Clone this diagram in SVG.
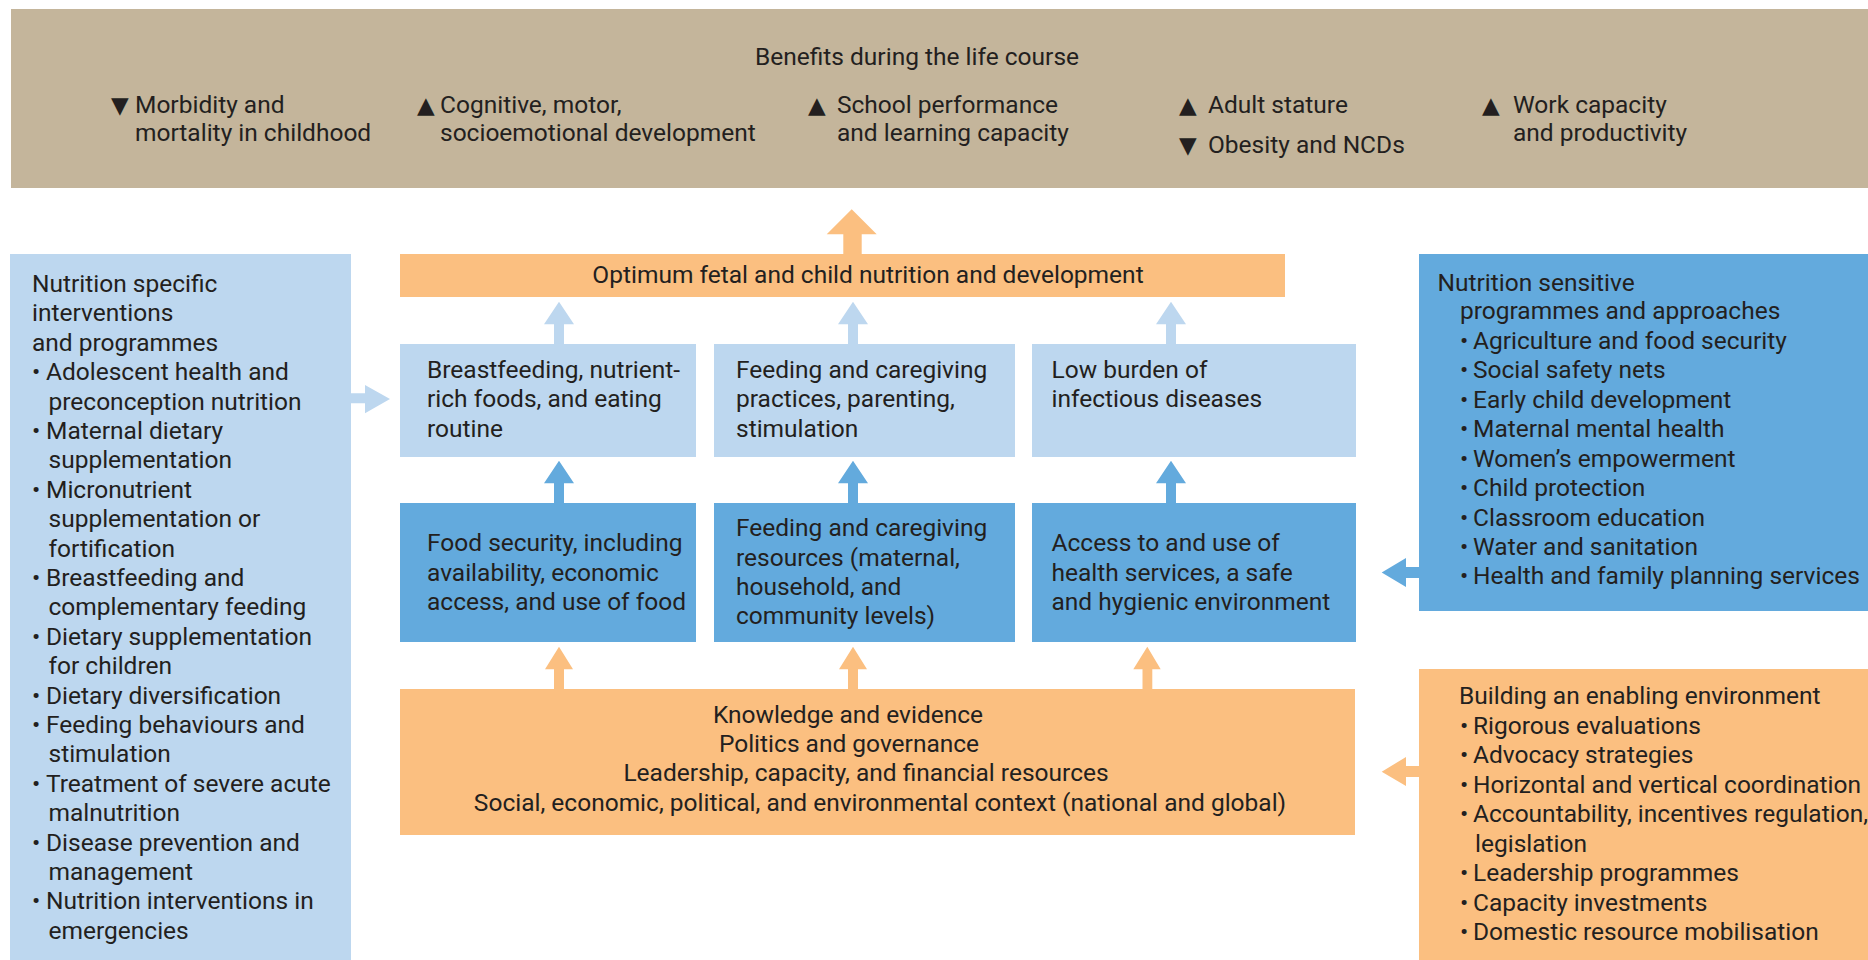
<svg xmlns="http://www.w3.org/2000/svg" width="1868" height="960" viewBox="0 0 1868 960">
  <style>
    .t { font-family: Roboto, "Liberation Sans", sans-serif; font-size: 24.5px; fill: #231f20; }
    .sym { font-family: "DejaVu Sans", Roboto, sans-serif; font-size: 23px; fill: #231f20; }
    .mid { text-anchor: middle; }
    .tan { fill: #c4b59b; }
    .lblue { fill: #bdd7ef; }
    .blue { fill: #63aadd; }
    .orange { fill: #fbbf80; }
  </style>

  <!-- Benefits band -->
  <g id="benefits">
    <rect class="tan" x="11" y="9" width="1857" height="179"/>
    <text class="t mid" x="917" y="65">Benefits during the life course</text>
    <text class="sym" x="111" y="113">▼</text>
    <text class="t" x="135" y="113">Morbidity and</text>
    <text class="t" x="135" y="141">mortality in childhood</text>
    <text class="sym" x="417" y="113">▲</text>
    <text class="t" x="440" y="113">Cognitive, motor,</text>
    <text class="t" x="440" y="141">socioemotional development</text>
    <text class="sym" x="808" y="113">▲</text>
    <text class="t" x="837" y="113">School performance</text>
    <text class="t" x="837" y="141">and learning capacity</text>
    <text class="sym" x="1179" y="113">▲</text>
    <text class="t" x="1208" y="113">Adult stature</text>
    <text class="sym" x="1179" y="153">▼</text>
    <text class="t" x="1208" y="153">Obesity and NCDs</text>
    <text class="sym" x="1482" y="113">▲</text>
    <text class="t" x="1513" y="113">Work capacity</text>
    <text class="t" x="1513" y="141">and productivity</text>
  </g>

  <!-- Nutrition specific interventions -->
  <g id="specific">
    <rect class="lblue" x="10" y="254" width="341" height="706"/>
    <text class="t" x="32" y="292">Nutrition specific</text>
    <text class="t" x="32" y="321.4">interventions</text>
    <text class="t" x="32" y="350.8">and programmes</text>
    <text class="t" y="380.2"><tspan x="32">•</tspan><tspan x="46">Adolescent health and</tspan></text>
    <text class="t" x="48.5" y="409.6">preconception nutrition</text>
    <text class="t" y="439"><tspan x="32">•</tspan><tspan x="46">Maternal dietary</tspan></text>
    <text class="t" x="48.5" y="468.4">supplementation</text>
    <text class="t" y="497.8"><tspan x="32">•</tspan><tspan x="46">Micronutrient</tspan></text>
    <text class="t" x="48.5" y="527.2">supplementation or</text>
    <text class="t" x="48.5" y="556.6">fortification</text>
    <text class="t" y="586"><tspan x="32">•</tspan><tspan x="46">Breastfeeding and</tspan></text>
    <text class="t" x="48.5" y="615.4">complementary feeding</text>
    <text class="t" y="644.8"><tspan x="32">•</tspan><tspan x="46">Dietary supplementation</tspan></text>
    <text class="t" x="48.5" y="674.2">for children</text>
    <text class="t" y="703.6"><tspan x="32">•</tspan><tspan x="46">Dietary diversification</tspan></text>
    <text class="t" y="733"><tspan x="32">•</tspan><tspan x="46">Feeding behaviours and</tspan></text>
    <text class="t" x="48.5" y="762.4">stimulation</text>
    <text class="t" y="791.8"><tspan x="32">•</tspan><tspan x="46">Treatment of severe acute</tspan></text>
    <text class="t" x="48.5" y="821.2">malnutrition</text>
    <text class="t" y="850.6"><tspan x="32">•</tspan><tspan x="46">Disease prevention and</tspan></text>
    <text class="t" x="48.5" y="880">management</text>
    <text class="t" y="909.4"><tspan x="32">•</tspan><tspan x="46">Nutrition interventions in</tspan></text>
    <text class="t" x="48.5" y="938.8">emergencies</text>
  </g>

  <!-- Outcome -->
  <g id="optimum">
    <rect class="orange" x="400" y="254" width="885" height="43"/>
    <text class="t mid" x="868" y="283">Optimum fetal and child nutrition and development</text>
  </g>

  <!-- Immediate determinants -->
  <g id="breastfeeding">
    <rect class="lblue" x="400" y="344" width="296" height="113"/>
    <text class="t" x="427" y="378">Breastfeeding, nutrient-</text>
    <text class="t" x="427" y="407">rich foods, and eating</text>
    <text class="t" x="427" y="437">routine</text>
  </g>
  <g id="caregiving-practices">
    <rect class="lblue" x="714" y="344" width="301" height="113"/>
    <text class="t" x="736" y="378">Feeding and caregiving</text>
    <text class="t" x="736" y="407">practices, parenting,</text>
    <text class="t" x="736" y="437">stimulation</text>
  </g>
  <g id="low-burden">
    <rect class="lblue" x="1032" y="344" width="324" height="113"/>
    <text class="t" x="1051.5" y="378">Low burden of</text>
    <text class="t" x="1051.5" y="407">infectious diseases</text>
  </g>

  <!-- Underlying determinants -->
  <g id="food-security">
    <rect class="blue" x="400" y="503" width="296" height="139"/>
    <text class="t" x="427" y="551">Food security, including</text>
    <text class="t" x="427" y="581">availability, economic</text>
    <text class="t" x="427" y="610">access, and use of food</text>
  </g>
  <g id="caregiving-resources">
    <rect class="blue" x="714" y="503" width="301" height="139"/>
    <text class="t" x="736" y="536">Feeding and caregiving</text>
    <text class="t" x="736" y="566">resources (maternal,</text>
    <text class="t" x="736" y="595">household, and</text>
    <text class="t" x="736" y="624">community levels)</text>
  </g>
  <g id="health-services">
    <rect class="blue" x="1032" y="503" width="324" height="139"/>
    <text class="t" x="1051.5" y="551">Access to and use of</text>
    <text class="t" x="1051.5" y="581">health services, a safe</text>
    <text class="t" x="1051.5" y="610">and hygienic environment</text>
  </g>

  <!-- Basic context -->
  <g id="context">
    <rect class="orange" x="400" y="689" width="955" height="146"/>
    <text class="t mid" x="848" y="723">Knowledge and evidence</text>
    <text class="t mid" x="849" y="752">Politics and governance</text>
    <text class="t mid" x="866" y="781">Leadership, capacity, and financial resources</text>
    <text class="t mid" x="880" y="810.5">Social, economic, political, and environmental context (national and global)</text>
  </g>

  <!-- Nutrition sensitive programmes -->
  <g id="sensitive">
    <rect class="blue" x="1419" y="254" width="449" height="357"/>
    <text class="t" x="1437.5" y="291">Nutrition sensitive</text>
    <text class="t" x="1460" y="319">programmes and approaches</text>
    <text class="t" y="349"><tspan x="1460">•</tspan><tspan x="1473">Agriculture and food security</tspan></text>
    <text class="t" y="378"><tspan x="1460">•</tspan><tspan x="1473">Social safety nets</tspan></text>
    <text class="t" y="407.5"><tspan x="1460">•</tspan><tspan x="1473">Early child development</tspan></text>
    <text class="t" y="436.5"><tspan x="1460">•</tspan><tspan x="1473">Maternal mental health</tspan></text>
    <text class="t" y="466.5"><tspan x="1460">•</tspan><tspan x="1473">Women’s empowerment</tspan></text>
    <text class="t" y="496"><tspan x="1460">•</tspan><tspan x="1473">Child protection</tspan></text>
    <text class="t" y="525.5"><tspan x="1460">•</tspan><tspan x="1473">Classroom education</tspan></text>
    <text class="t" y="555"><tspan x="1460">•</tspan><tspan x="1473">Water and sanitation</tspan></text>
    <text class="t" y="584"><tspan x="1460">•</tspan><tspan x="1473">Health and family planning services</tspan></text>
  </g>

  <!-- Enabling environment -->
  <g id="enabling">
    <rect class="orange" x="1419" y="669" width="449" height="291"/>
    <text class="t" x="1459" y="704">Building an enabling environment</text>
    <text class="t" y="734"><tspan x="1460">•</tspan><tspan x="1473">Rigorous evaluations</tspan></text>
    <text class="t" y="763"><tspan x="1460">•</tspan><tspan x="1473">Advocacy strategies</tspan></text>
    <text class="t" y="793"><tspan x="1460">•</tspan><tspan x="1473">Horizontal and vertical coordination</tspan></text>
    <text class="t" y="822"><tspan x="1460">•</tspan><tspan x="1473">Accountability, incentives regulation,</tspan></text>
    <text class="t" x="1475" y="851.5">legislation</text>
    <text class="t" y="881"><tspan x="1460">•</tspan><tspan x="1473">Leadership programmes</tspan></text>
    <text class="t" y="911"><tspan x="1460">•</tspan><tspan x="1473">Capacity investments</tspan></text>
    <text class="t" y="940"><tspan x="1460">•</tspan><tspan x="1473">Domestic resource mobilisation</tspan></text>
  </g>

  <!-- Block arrows -->
  <g id="connectors">
    <!-- outcome to benefits -->
    <polygon class="orange" points="843.3,254 843.3,234.3 826.7,234.3 851.7,209.3 876.7,234.3 861.7,234.3 861.7,254"/>
    <!-- immediate to outcome -->
    <polygon class="lblue" points="554,344 554,324.3 544,324.3 559,301.7 574,324.3 564,324.3 564,344"/>
    <polygon class="lblue" points="848,344 848,324.3 838,324.3 853,301.7 868,324.3 858,324.3 858,344"/>
    <polygon class="lblue" points="1166,344 1166,324.3 1156,324.3 1171,301.7 1186,324.3 1176,324.3 1176,344"/>
    <!-- underlying to immediate -->
    <polygon class="blue" points="554,503 554,483.3 544,483.3 559,460.7 574,483.3 564,483.3 564,503"/>
    <polygon class="blue" points="848,503 848,483.3 838,483.3 853,460.7 868,483.3 858,483.3 858,503"/>
    <polygon class="blue" points="1166,503 1166,483.3 1156,483.3 1171,460.7 1186,483.3 1176,483.3 1176,503"/>
    <!-- context to underlying -->
    <polygon class="orange" points="554,689 554,669.3 545,669.3 559,646.7 573,669.3 564,669.3 564,689"/>
    <polygon class="orange" points="848,689 848,669.3 839,669.3 853,646.7 867,669.3 858,669.3 858,689"/>
    <polygon class="orange" points="1142.5,689 1142.5,669.3 1133.3,669.3 1147.3,646.7 1160.7,669.3 1152.3,669.3 1152.3,689"/>
    <!-- specific interventions to immediate -->
    <polygon class="lblue" points="351,393.3 365,393.3 365,385 390,399 365,413.3 365,403.3 351,403.3"/>
    <!-- sensitive programmes to underlying -->
    <polygon class="blue" points="1419,567 1406,567 1406,558 1381.7,572.5 1406,587 1406,578 1419,578"/>
    <!-- enabling environment to context -->
    <polygon class="orange" points="1419,766 1406,766 1406,757 1381.7,771.7 1406,786 1406,777 1419,777"/>
  </g>
</svg>
